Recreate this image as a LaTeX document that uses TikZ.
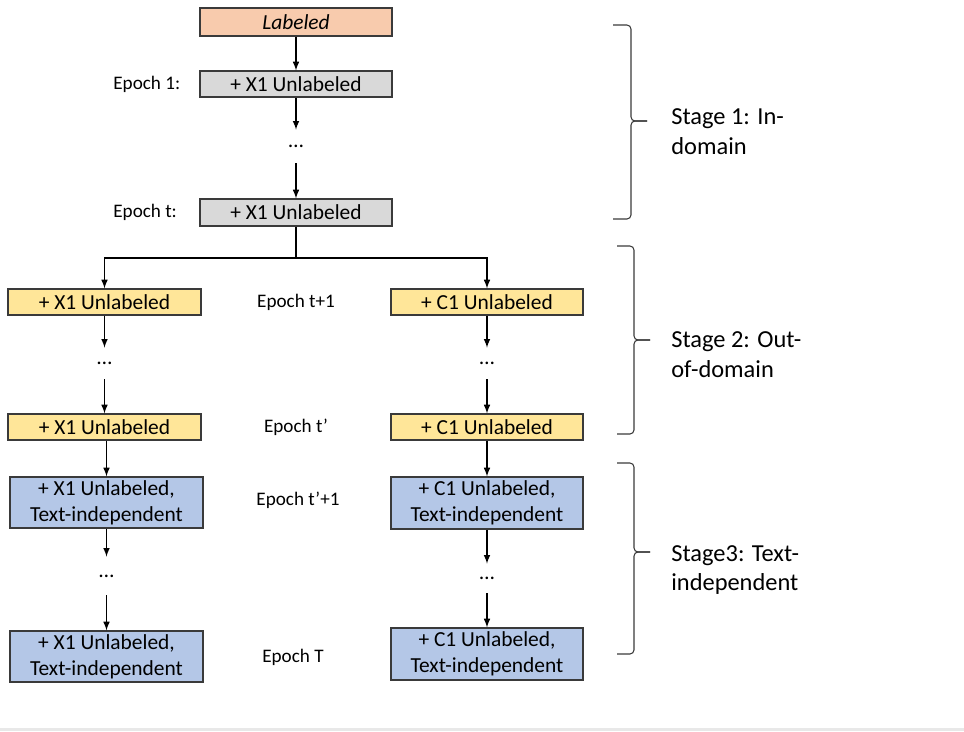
\documentclass[tikz,border=0pt]{standalone}
\usepackage{fontspec}
\setmainfont{Carlito}
\definecolor{labfill}{HTML}{F8CBAD}
\definecolor{grayfill}{HTML}{D9D9D9}
\definecolor{yellowfill}{HTML}{FFE699}
\definecolor{bluefill}{HTML}{B4C7E7}
\definecolor{boxline}{HTML}{3A3A3A}
\begin{document}
\begin{tikzpicture}[x=0.02cm,y=-0.02cm,every node/.style={inner sep=0pt}]
\tikzstyle{arrow}=[draw,-latex,line width=0.7pt]
\tikzstyle{box}=[draw=boxline,line width=0.75pt,minimum width=3.84cm,minimum height=0.52cm,align=center,font=\fontsize{12.2}{14.6}\selectfont]
\tikzstyle{dotsnode}=[font=\fontsize{12.2}{14.6}\selectfont]
\tikzstyle{epoch}=[font=\fontsize{10.9}{13}\selectfont]
\tikzstyle{stage}=[align=left,anchor=west,font=\fontsize{13.9}{17}\selectfont]
\tikzstyle{stagebrace}=[draw=boxline,line width=0.6pt,rounded corners=2.3pt]
\useasboundingbox (0,0) rectangle (964,731);
\fill[gray!18] (0,728) rectangle (964,731);

% stage 1: one column
\node[box,fill=labfill,minimum height=0.56cm](lab) at (296,22){\textit{Labeled}};
\node[box,fill=grayfill](g1) at (296,84){+ X1 Unlabeled};
\node[dotsnode,minimum height=0.66cm](gd) at (296,146.5){\dots};
\node[box,fill=grayfill,minimum height=0.54cm](gt) at (296,212.5){+ X1 Unlabeled};
\coordinate (split) at (296,258);

% stage 2: X1 left, C1 right
\node[box,fill=yellowfill,minimum width=3.86cm](y1l) at (104.5,302){+ X1 Unlabeled};
\node[dotsnode,minimum height=0.62cm](ydl) at (104.5,363.5){\dots};
\node[box,fill=yellowfill,minimum width=3.86cm](y2l) at (104.5,427){+ X1 Unlabeled};
\node[box,fill=yellowfill](y1r) at (487,302){+ C1 Unlabeled};
\node[dotsnode,minimum height=0.62cm](ydr) at (487,363.5){\dots};
\node[box,fill=yellowfill](y2r) at (487,427){+ C1 Unlabeled};

% stage 3
\node[box,fill=bluefill,minimum width=3.86cm,minimum height=1.02cm](b1l) at (106.5,502.5){+ X1 Unlabeled,\\Text-independent};
\node[dotsnode,minimum height=0.76cm](bdl) at (106.5,576){\dots};
\node[box,fill=bluefill,minimum width=3.86cm,minimum height=1.02cm](b2l) at (106.5,656.5){+ X1 Unlabeled,\\Text-independent};
\node[box,fill=bluefill,minimum height=1.04cm](b1r) at (487,503){+ C1 Unlabeled,\\Text-independent};
\node[dotsnode,minimum height=0.58cm](bdr) at (487,578.5){\dots};
\node[box,fill=bluefill,minimum height=1.04cm](b2r) at (487,654){+ C1 Unlabeled,\\Text-independent};

% epochs
\node[epoch,anchor=west](ep1) at (113,84){Epoch 1:};
\node[epoch,anchor=west](ept) at (113,212){Epoch t:};
\node[epoch](eptp) at (296,302){Epoch t+1};
\node[epoch](eptq) at (296,427){Epoch t’};
\node[epoch](eptqp) at (298,500){Epoch t’+1};
\node[epoch](epT) at (293,657){Epoch T};

\path[arrow](lab.south)--(g1.north);
\path[arrow](g1.south)--(gd.north);
\path[arrow](gd.south)--(gt.north);
\path[draw,line width=0.7pt](gt.south)--(split);
\path[arrow](split)-|(y1l.north);
\path[arrow](split)-|(y1r.north);

\path[arrow](y1l.south)--(ydl.north);
\path[arrow](ydl.south)--(y2l.north);
\path[arrow](y1r.south)--(ydr.north);
\path[arrow](ydr.south)--(y2r.north);

\path[arrow](b1l.north|-y2l.south)--(b1l.north);
\path[arrow](y2r.south)--(b1r.north);
\path[arrow](b1l.south)--(bdl.north);
\path[arrow](bdl.south)--(b2l.north);
\path[arrow](b1r.south)--(bdr.north);
\path[arrow](bdr.south)--(b2r.north);

% braces
\coordinate (tip1) at (647,121);
\coordinate (tip2) at (650,340);
\coordinate (tip3) at (650,552);
\path[stagebrace](613,25)--(631,25)--(631,121)--(tip1);
\path[stagebrace](tip1)--(631,121)--(631,219)--(613,219);
\path[stagebrace](617,246)--(634,246)--(634,340)--(tip2);
\path[stagebrace](tip2)--(634,340)--(634,434)--(617,434);
\path[stagebrace](617,463)--(634,463)--(634,552)--(tip3);
\path[stagebrace](tip3)--(634,552)--(634,654)--(617,654);

\node[stage](s1) at (671,132){Stage 1: In-\\domain};
\node[stage](s2) at (671,355){Stage 2: Out-\\of-domain};
\node[stage](s3) at (671,570){Stage3: Text-\\independent};
\end{tikzpicture}
\end{document}
